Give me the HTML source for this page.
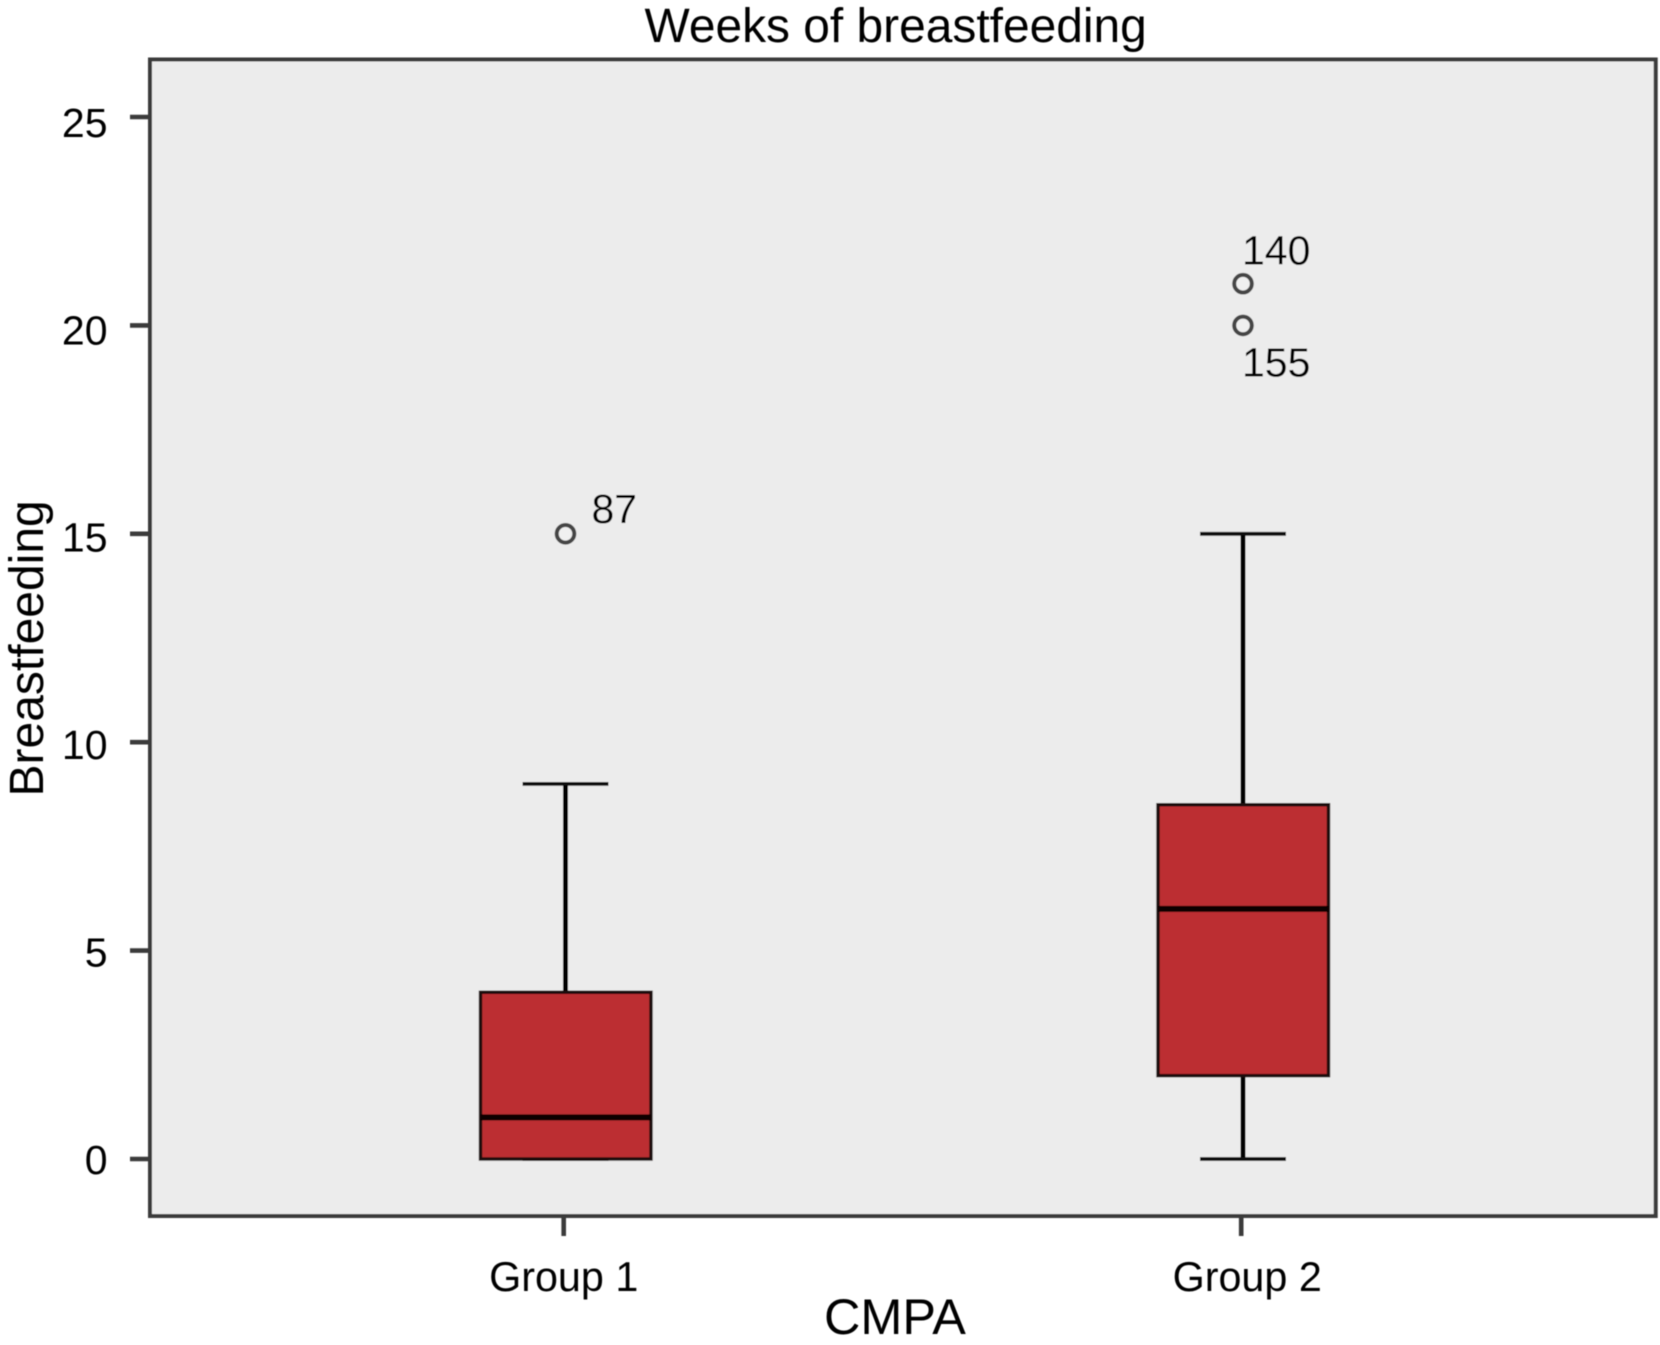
<!DOCTYPE html>
<html>
<head>
<meta charset="utf-8">
<title>Weeks of breastfeeding</title>
<style>
html,body{margin:0;padding:0;background:#fff;width:1660px;height:1345px;overflow:hidden}
svg{display:block;position:absolute;left:0;top:0}
text{font-family:"Liberation Sans",Arial,sans-serif;fill:#000}
</style>
</head>
<body>
<svg id="chart" width="1660" height="1345" viewBox="0 0 1660 1345" xmlns="http://www.w3.org/2000/svg">
  <defs><filter id="soft" x="-2%" y="-2%" width="104%" height="104%"><feGaussianBlur stdDeviation="0.45"/></filter></defs>
  <g id="root" filter="url(#soft)">
    <rect x="150" y="59.5" width="1505.7" height="1156.5" fill="#ececec"/>
    <g id="marks"></g>
    <rect x="150" y="59.5" width="1505.7" height="1156.5" fill="none" stroke="#3a3a3a" stroke-width="4"/>
    <g id="axes"></g>
    <text x="644.5" y="42" font-size="47.9">Weeks of breastfeeding</text>
    <text x="824" y="1334" font-size="50.4">CMPA</text>
    <text transform="translate(43,796.5) rotate(-90)" font-size="48">Breastfeeding</text>
  </g>
</svg>
<script>
const categories = ['Group 1', 'Group 2'];
const whiskerLow = [0, 0];
const q1 = [0, 2];
const median = [1, 6];
const q3 = [4, 8.5];
const whiskerHigh = [9, 15];
const outlierValues = [[15], [21, 20]];
const outlierLabels = [['87'], ['140', '155']];
const yTicks = [0, 5, 10, 15, 20, 25];

const NS = 'http://www.w3.org/2000/svg';
const marks = document.getElementById('marks');
const axes = document.getElementById('axes');
const y = v => 1159 - v * 41.68;
const tickLabelY = v => 1173.9 - v * 41.48;
const xCenter = i => 565.5 + i * 677.5;
const xTick = i => 563.7 + i * 677.5;
const make = (parent, tag, attrs, text) => {
  const el = document.createElementNS(NS, tag);
  for (const k in attrs) el.setAttribute(k, attrs[k]);
  if (text !== undefined) el.textContent = text;
  parent.appendChild(el);
  return el;
};

yTicks.forEach(v => {
  const t = make(axes, 'line', {x1: 130, x2: 150, y1: y(v), y2: y(v), stroke: '#3a3a3a', 'stroke-width': 4.6});
  
  
  const l = make(axes, 'text', {x: 107.5, y: tickLabelY(v), 'text-anchor': 'end', 'font-size': 41}, String(v));
  
  
});

categories.forEach((c, i) => {
  const cx = xCenter(i);
  const tick = make(axes, 'line', {x1: xTick(i), x2: xTick(i), y1: 1216, y2: 1236, stroke: '#3a3a3a', 'stroke-width': 4.6});
  
  
  const lab = make(axes, 'text', {x: xTick(i) + (i ? 6 : 0), y: 1291, 'text-anchor': 'middle', 'font-size': 41.3}, c);
  
  

  const g = make(marks, 'g', {});
  
  

  const capHalf = 43;
  const upper = make(g, 'line', {x1: cx, x2: cx, y1: y(q3[i]), y2: y(whiskerHigh[i]), stroke: '#000', 'stroke-width': 5});
  
  
  const lower = make(g, 'line', {x1: cx, x2: cx, y1: y(q1[i]), y2: y(whiskerLow[i]), stroke: '#000', 'stroke-width': 5});
  
  
  const capHi = make(g, 'line', {x1: cx - capHalf, x2: cx + capHalf, y1: y(whiskerHigh[i]), y2: y(whiskerHigh[i]), stroke: '#0c0c0c', 'stroke-width': 3.8});
  
  
  const capLo = make(g, 'line', {x1: cx - capHalf, x2: cx + capHalf, y1: y(whiskerLow[i]), y2: y(whiskerLow[i]), stroke: '#0c0c0c', 'stroke-width': 3.8});
  
  

  const box = make(g, 'rect', {x: cx - 85, width: 170.5, y: y(q3[i]), height: y(q1[i]) - y(q3[i]), fill: '#bc2d33', stroke: '#1c1010', 'stroke-width': 3.4});
  
  
  const med = make(g, 'line', {x1: cx - 85, x2: cx + 85.5, y1: y(median[i]), y2: y(median[i]), stroke: '#0c0000', 'stroke-width': 6});
  
  

  outlierValues[i].forEach((v, j) => {
    const o = make(g, 'circle', {cx: cx, cy: y(v), r: 8.8, fill: '#f0f0f0', stroke: '#444', 'stroke-width': 4});
    
    
    // Labels sit above the point, except when a neighbouring higher outlier forces the label below.
    const below = j > 0;
    const lx = i === 0 ? cx + 26 : cx - 1;
    const ly = below ? y(v) + 51 : y(v) - (i === 0 ? 11 : 19);
    const t = make(g, 'text', {x: lx, y: ly, 'font-size': 41}, outlierLabels[i][j]);
    
    
  });
});
</script>
</body>
</html>
